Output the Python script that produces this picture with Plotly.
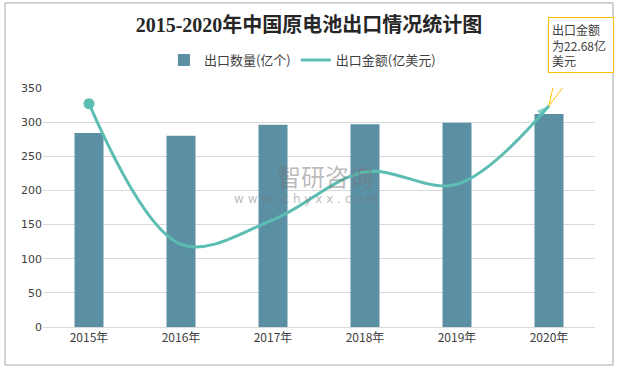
import plotly.graph_objects as go

years = ["2015年", "2016年", "2017年", "2018年", "2019年", "2020年"]
export_qty = [284, 280, 296, 297, 299, 312]      # 出口数量(亿个)
export_value = [327, 121, 157, 227, 209, 324]    # 出口金额(亿美元)
y_ticks = [0, 50, 100, 150, 200, 250, 300, 350]

title_text = "2015-2020年中国原电池出口情况统计图"
note_text = "出口金额<br>为22.68亿<br>美元"

BAR = "#5B8FA3"
LINE = "#5CBDB2"
TXT = "#404040"
CJK = "Noto Sans CJK SC"

fig = go.Figure()
fig.add_trace(go.Bar(
    x=years, y=export_qty, name="出口数量(亿个)",
    marker=dict(color=BAR, line=dict(width=0)),
))
fig.add_trace(go.Scatter(
    x=years, y=export_value, name="出口金额(亿美元)",
    mode="lines",
    line=dict(color=LINE, width=3, shape="spline", smoothing=1),
))
# start dot and end arrow of the line
fig.add_trace(go.Scatter(
    x=years[:1], y=export_value[:1], mode="markers", showlegend=False,
    marker=dict(color=LINE, symbol="circle", size=11, line=dict(width=0)),
))
fig.add_trace(go.Scatter(
    x=years[-2:], y=export_value[-2:], mode="markers", showlegend=False,
    marker=dict(color=LINE, symbol=["circle", "arrow"], size=[0, 13],
                angleref="previous", line=dict(width=0)),
))

# callout box for 2020
fig.add_annotation(
    x=years[-1], y=export_value[-1], xref="x", yref="y",
    text=note_text, showarrow=True, arrowcolor="rgba(0,0,0,0)",
    ax=32, ay=-61, width=58, align="left",
    bordercolor="#FFC000", borderwidth=1, borderpad=3, bgcolor="white",
    font=dict(family=CJK, size=12, color=TXT),
)
fig.add_shape(
    type="path", xref="x", yref="y",
    xsizemode="pixel", ysizemode="pixel",
    xanchor=years[-1], yanchor=export_value[-1],
    path="M 7 33 L 0 0 L 25 33",
    line=dict(color="#FFC000", width=1),
)

# watermark
fig.add_annotation(
    x=0.51, y=0.632, xref="paper", yref="paper", text="智研咨询",
    showarrow=False, font=dict(family=CJK, size=24, color="rgba(120,120,120,0.5)"),
)
fig.add_annotation(
    x=0.477, y=0.535, xref="paper", yref="paper", text="w w w . c h y x x . c o m",
    showarrow=False, font=dict(family="DejaVu Sans", size=12, color="rgba(120,120,120,0.5)"),
)

# outer border
fig.add_shape(type="rect", xref="paper", yref="paper",
              x0=-0.0688, x1=1.0326, y0=-0.159, y1=1.356,
              line=dict(color="#A6A6A6", width=1), layer="below")

fig.update_layout(
    width=618, height=369,
    margin=dict(l=43, r=23, t=88, b=42, autoexpand=False),
    paper_bgcolor="white", plot_bgcolor="white",
    title=dict(text=title_text, x=0.5, xanchor="center", y=0.932, yanchor="middle",
               font=dict(family="Liberation Serif, " + CJK, size=20, color="#262626",
                         weight="bold")),
    legend=dict(orientation="h", x=0.47, xanchor="center", y=1.117, yanchor="middle",
                font=dict(family=CJK, size=13, color=TXT), itemwidth=30,
                bgcolor="rgba(0,0,0,0)"),
    bargap=0.685,
    showlegend=True,
    font=dict(family=CJK, color=TXT),
)
fig.update_xaxes(range=[-0.5, len(years) - 0.5], autorange=False,
                 showgrid=False, showline=True, linecolor="#D9D9D9", linewidth=1,
                 ticks="", tickfont=dict(family=CJK, size=12, color=TXT))
fig.update_yaxes(range=[0, 350], autorange=False, tickvals=y_ticks, showgrid=True,
                 gridcolor="#D9D9D9", gridwidth=1, zeroline=False, showline=False,
                 ticks="", tickfont=dict(family="DejaVu Sans", size=11, color=TXT))

fig.write_html("out.html", config={"displayModeBar": False},
               post_script="document.body.style.margin='0';document.body.style.overflow='hidden';")
